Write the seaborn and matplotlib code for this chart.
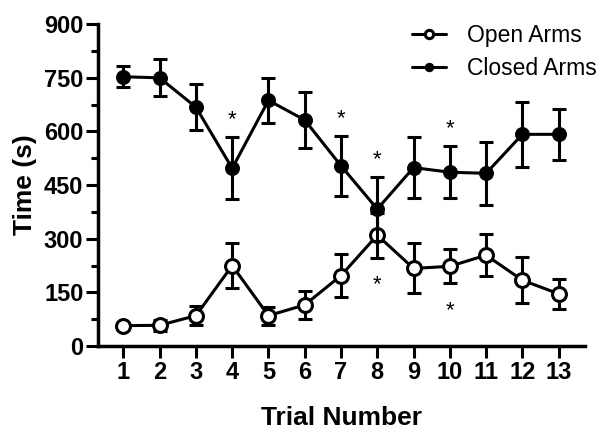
import numpy as np
import pandas as pd
import matplotlib
matplotlib.use("Agg")
import matplotlib.pyplot as plt
import seaborn as sns

trials = list(range(1, 14))
open_mean = [57, 58, 85, 225, 85, 115, 197, 310, 217, 223, 254, 184, 146]
open_err = [8, 16, 27, 63, 25, 40, 60, 63, 70, 48, 59, 64, 42]
closed_mean = [753, 750, 668, 497, 687, 632, 504, 383, 499, 486, 483, 592, 592]
closed_err = [29, 52, 64, 87, 62, 79, 84, 90, 86, 72, 88, 91, 71]
closed_star = [4, 7, 8, 10]
open_star = [8, 10]

sns.set_style("ticks")
plt.rcParams["font.family"] = ["Liberation Sans", "DejaVu Sans"]
plt.rcParams["text.color"] = "black"
plt.rcParams["axes.labelcolor"] = "black"
plt.rcParams["xtick.color"] = "black"
plt.rcParams["ytick.color"] = "black"
plt.rcParams["axes.edgecolor"] = "black"

df = pd.DataFrame({
    "Trial": trials * 2,
    "Time": open_mean + closed_mean,
    "Arm": ["Open Arms"] * 13 + ["Closed Arms"] * 13,
})

fig = plt.figure(figsize=(6.01, 4.32), dpi=100)
ax = fig.add_axes([0.163, 0.199, 0.81, 0.745])

lw = 2.2
ax.errorbar(trials, open_mean, yerr=open_err, fmt="none", ecolor="black",
            elinewidth=lw, capsize=5, capthick=lw, zorder=2)
ax.errorbar(trials, closed_mean, yerr=closed_err, fmt="none", ecolor="black",
            elinewidth=lw, capsize=5, capthick=lw, zorder=4)

sns.lineplot(data=df[df.Arm == "Open Arms"], x="Trial", y="Time", ax=ax,
             color="black", linewidth=lw, marker="o", markersize=10,
             markerfacecolor="white", markeredgecolor="black", markeredgewidth=2.2,
             label="Open Arms", zorder=3)
sns.lineplot(data=df[df.Arm == "Closed Arms"], x="Trial", y="Time", ax=ax,
             color="black", linewidth=lw, marker="o", markersize=10,
             markerfacecolor="black", markeredgecolor="black",
             label="Closed Arms", zorder=5)

for t in closed_star:
    i = trials.index(t)
    ax.annotate("*", (t, closed_mean[i] + closed_err[i]), xytext=(0, 5),
                textcoords="offset points", ha="center", va="bottom", fontsize=16)
for t in open_star:
    i = trials.index(t)
    ax.annotate("*", (t, open_mean[i] - open_err[i]), xytext=(0, -12),
                textcoords="offset points", ha="center", va="top", fontsize=16)

ax.set_xlim(0.3, 13.72)
ax.set_ylim(0, 900)
ax.set_xticks(trials)
ax.set_yticks(range(0, 901, 150))
ax.set_yticks(range(75, 900, 150), minor=True)
ax.tick_params(axis="both", which="major", length=8.5, width=2.2, labelsize=17, pad=2)
ax.tick_params(axis="y", which="minor", length=5, width=2.2)
for lab in ax.get_xticklabels() + ax.get_yticklabels():
    lab.set_fontweight("bold")

for s in ["left", "bottom"]:
    ax.spines[s].set_linewidth(2.5)
sns.despine(ax=ax)

ax.set_xlabel("Trial Number", fontsize=19, fontweight="bold", labelpad=16)
ax.set_ylabel("Time (s)", fontsize=19, fontweight="bold", labelpad=5)

ax.legend(loc="upper right", bbox_to_anchor=(1.066, 1.066), frameon=False,
          fontsize=16.5, handlelength=1.5, handletextpad=0.9, labelspacing=0.45,
          markerscale=0.6)

fig.savefig("out.png", dpi=100)
